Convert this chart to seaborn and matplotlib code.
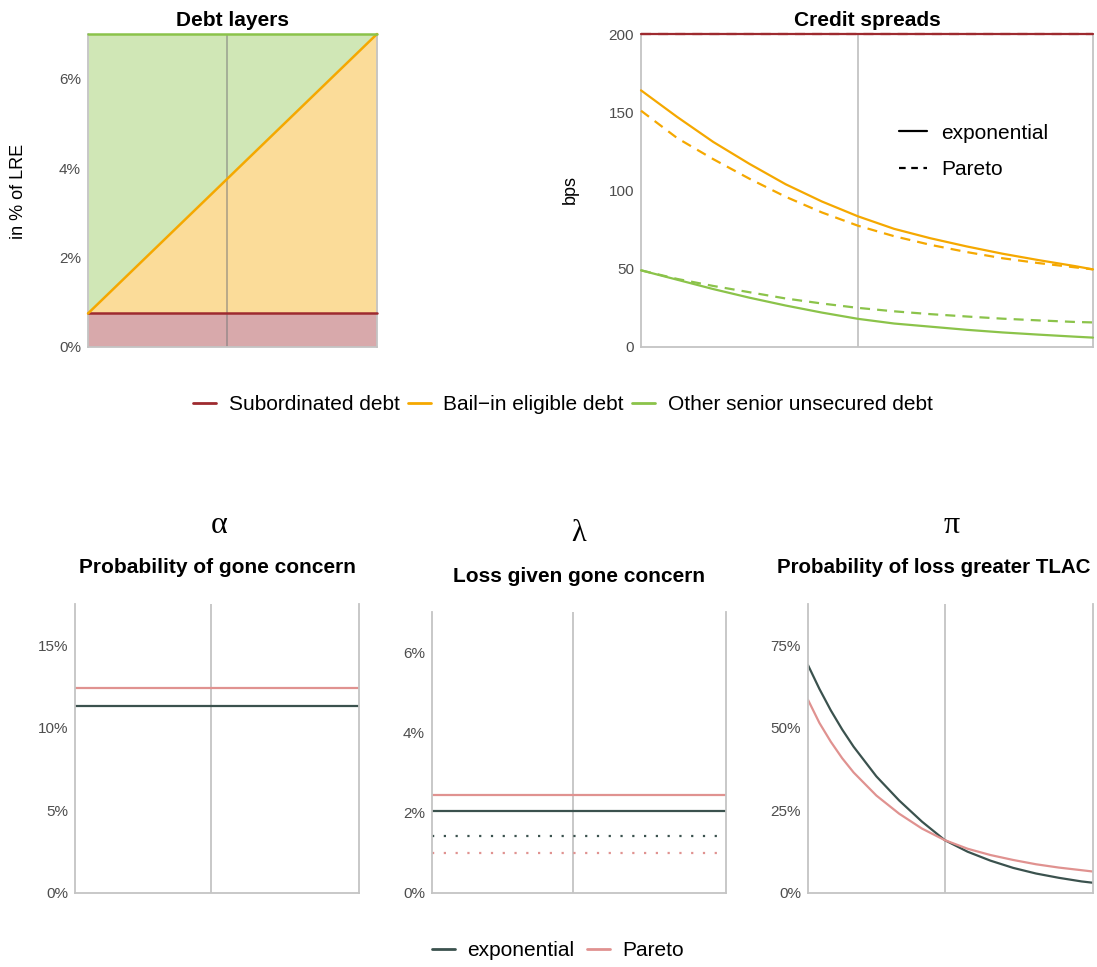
import matplotlib
matplotlib.use("Agg")
import matplotlib.pyplot as plt
import seaborn as sns
import pandas as pd
from matplotlib.lines import Line2D
from matplotlib.ticker import FuncFormatter

# ---------------- data ----------------
# Debt layers (in % of LRE) along the bail-in eligible debt axis
debt_x = [0.0, 6.25]
sub_debt = [0.75, 0.75]
bailin_debt = [0.0, 6.25]
senior_debt = [6.25, 0.0]

x_grid = [0, 0.5, 1, 1.5, 2, 2.5, 3, 3.5, 4, 4.5, 5, 5.5, 6, 6.25]
x_ref = 3

# Credit spreads (bps)
spread_sub_exp = [200, 200, 200, 200, 200, 200, 200, 200, 200, 200, 200, 200, 200, 200]
spread_sub_par = [200, 200, 200, 200, 200, 200, 200, 200, 200, 200, 200, 200, 200, 200]
spread_bail_exp = [164, 147, 131, 117, 104, 93, 83.5, 75.5, 69.5, 64.3, 59.6, 55.5, 51.7, 49.6]
spread_bail_par = [151, 133.5, 120, 107.5, 96, 86, 77.5, 70.8, 65.3, 60.7, 56.7, 53.6, 50.9, 49.6]
spread_sen_exp = [49, 43, 37, 31.5, 26.5, 22, 18, 15, 13, 11, 9.3, 7.9, 6.6, 6]
spread_sen_par = [49, 43.5, 39, 35, 31, 27.8, 25, 22.8, 21, 19.5, 18.1, 17, 16, 15.7]

# alpha: probability of gone concern (%)
alpha_exp = [11.3, 11.3]
alpha_par = [12.4, 12.4]
# lambda: loss given gone concern (%)
lambda_exp = [2.05, 2.05]
lambda_par = [2.45, 2.45]
lambda_exp_dot = [1.43, 1.43]
lambda_par_dot = [1.0, 1.0]
# pi: probability of loss greater TLAC (%)
pi_x = [0, 0.25, 0.5, 0.75, 1, 1.5, 2, 2.5, 3, 3.5, 4, 4.5, 5, 5.5, 6, 6.25]
pi_exp = [69, 61.8, 55.3, 49.5, 44.3, 35.3, 28, 21.6, 16.0, 12.5, 9.8, 7.6, 5.9, 4.6, 3.5, 3.1]
pi_par = [58.5, 51.5, 45.8, 40.8, 36.5, 29.5, 24, 19.5, 16, 13.4, 11.5, 10, 8.7, 7.7, 6.9, 6.5]

layer_names = ["Subordinated debt", "Bail\u2212in eligible debt", "Other senior unsecured debt"]
dist_names = ["exponential", "Pareto"]

# ---------------- style ----------------
sns.set_theme(style="white")
plt.rcParams["font.family"] = ["Liberation Sans", "DejaVu Sans"]
plt.rcParams["text.color"] = "black"
plt.rcParams["legend.labelcolor"] = "black"

C_RED = "#9E2A2F"
C_ORANGE = "#F5A800"
C_GREEN = "#8BC34A"
C_EXP = "#3B524E"
C_PAR = "#E09290"
C_GRID = "#C4C4C4"
C_TICK = "#4D4D4D"

W, H = 1097, 967
fig = plt.figure(figsize=(W / 100, H / 100), dpi=100)


def add_ax(x0, y0, x1, y1):
    return fig.add_axes([x0 / W, 1 - y1 / H, (x1 - x0) / W, (y1 - y0) / H])


def style(ax, ylim, yticks, fmt):
    ax.set_xlim(debt_x[0], debt_x[-1])
    ax.set_ylim(*ylim)
    ax.set_yticks(yticks)
    ax.yaxis.set_major_formatter(FuncFormatter(fmt))
    ax.set_xticks([])
    ax.set_xlabel("")
    ax.set_ylabel("")
    for s in ["left", "right", "bottom"]:
        ax.spines[s].set_visible(True)
        ax.spines[s].set_color(C_GRID)
        ax.spines[s].set_linewidth(1.3)
    ax.spines["top"].set_visible(False)
    ax.tick_params(axis="y", length=0, labelsize=11, labelcolor=C_TICK, pad=5)
    ax.axvline(x_ref, color=C_GRID, lw=1.3, zorder=0.5)
    ax.set_facecolor("white")


pct = lambda v, p: f"{v:g}%"
num = lambda v, p: f"{v:g}"

# ---------------- Debt layers ----------------
ax1 = add_ax(88, 34, 377, 347)
lvl1 = [a for a in sub_debt]
lvl2 = [a + b for a, b in zip(sub_debt, bailin_debt)]
lvl3 = [a + b + c for a, b, c in zip(sub_debt, bailin_debt, senior_debt)]
ax1.fill_between(debt_x, 0, lvl1, color=C_RED, alpha=0.4, lw=0, zorder=1)
ax1.fill_between(debt_x, lvl1, lvl2, color=C_ORANGE, alpha=0.4, lw=0, zorder=1)
ax1.fill_between(debt_x, lvl2, lvl3, color=C_GREEN, alpha=0.4, lw=0, zorder=1)
sns.lineplot(x=debt_x, y=lvl1, ax=ax1, color=C_RED, lw=1.8, zorder=3)
sns.lineplot(x=debt_x, y=lvl2, ax=ax1, color=C_ORANGE, lw=1.8, zorder=3)
sns.lineplot(x=debt_x, y=lvl3, ax=ax1, color=C_GREEN, lw=1.8, zorder=3)
for ln in ax1.lines:
    ln.set_clip_on(False)
style(ax1, (0, 7), [0, 2, 4, 6], pct)
ax1.axvline(x_ref, color="#9a9a9a", lw=1.3, alpha=0.55, zorder=2)

# ---------------- Credit spreads ----------------
ax2 = add_ax(641, 34, 1093, 347)
dash = (0, (4.5, 3.2))
series = [
    (spread_sub_exp, C_RED, "-"), (spread_sub_par, C_RED, dash),
    (spread_bail_exp, C_ORANGE, "-"), (spread_bail_par, C_ORANGE, dash),
    (spread_sen_exp, C_GREEN, "-"), (spread_sen_par, C_GREEN, dash),
]
for vals, col, ls in series:
    sns.lineplot(x=x_grid, y=vals, ax=ax2, color=col, lw=1.6, linestyle=ls, zorder=3)
for ln in ax2.lines:
    ln.set_clip_on(False)
style(ax2, (0, 200), [0, 50, 100, 150, 200], num)
ax2.legend(handles=[Line2D([], [], color="black", lw=1.6, ls="-"),
                    Line2D([], [], color="black", lw=1.6, ls=(0, (3, 2.5)))],
           labels=dist_names, loc="center left", bbox_to_anchor=(0.53, 0.625),
           frameon=False, fontsize=15, handlelength=1.35, handletextpad=0.65,
           labelspacing=0.85)

# ---------------- bottom panels ----------------
ax3 = add_ax(75, 604, 359, 893)
sns.lineplot(x=debt_x, y=alpha_exp, ax=ax3, color=C_EXP, lw=1.6)
sns.lineplot(x=debt_x, y=alpha_par, ax=ax3, color=C_PAR, lw=1.6)
style(ax3, (0, 17.5), [0, 5, 10, 15], pct)

ax4 = add_ax(432, 612, 726, 893)
sns.lineplot(x=debt_x, y=lambda_exp, ax=ax4, color=C_EXP, lw=1.6)
sns.lineplot(x=debt_x, y=lambda_par, ax=ax4, color=C_PAR, lw=1.6)
sns.lineplot(x=debt_x, y=lambda_exp_dot, ax=ax4, color=C_EXP, lw=1.6, linestyle=(0, (1, 4.3)))
sns.lineplot(x=debt_x, y=lambda_par_dot, ax=ax4, color=C_PAR, lw=1.6, linestyle=(0, (1, 4.3)))
style(ax4, (0, 7.0), [0, 2, 4, 6], pct)

ax5 = add_ax(808, 604, 1093, 893)
sns.lineplot(x=pi_x, y=pi_exp, ax=ax5, color=C_EXP, lw=1.6)
sns.lineplot(x=pi_x, y=pi_par, ax=ax5, color=C_PAR, lw=1.6)
style(ax5, (0, 87.5), [0, 25, 50, 75], pct)

# ---------------- texts ----------------
def ftext(x, y, s, **kw):
    fig.text(x / W, 1 - y / H, s, color="black", **kw)

ftext(232, 26, "Debt layers", ha="center", va="baseline", fontsize=15, fontweight="bold")
ftext(867, 26, "Credit spreads", ha="center", va="baseline", fontsize=15, fontweight="bold")
ftext(19, 191, "in % of LRE", ha="center", va="center", rotation=90, fontsize=13)
ftext(570, 190, "bps", ha="center", va="center", rotation=90, fontsize=13)

greek_font = ["Liberation Serif", "DejaVu Serif"]
ftext(219, 533, "\u03b1", ha="center", va="baseline", fontsize=23, family=greek_font)
ftext(579, 541, "\u03bb", ha="center", va="baseline", fontsize=22, family=greek_font)
ftext(952, 533, "\u03c0", ha="center", va="baseline", fontsize=23, family=greek_font)
ftext(217, 573, "Probability of gone concern", ha="center", va="baseline", fontsize=15, fontweight="bold")
ftext(579, 582, "Loss given gone concern", ha="center", va="baseline", fontsize=15, fontweight="bold")
ftext(934, 573, "Probability of loss greater TLAC", ha="center", va="baseline", fontsize=14.8, fontweight="bold")

fig.legend(handles=[Line2D([], [], color=c, lw=2) for c in [C_RED, C_ORANGE, C_GREEN]],
           labels=layer_names, loc="center", bbox_to_anchor=(563 / W, 1 - 405 / H),
           ncol=3, frameon=False, fontsize=15, handlelength=1.1, handletextpad=0.6,
           columnspacing=0.4)
fig.legend(handles=[Line2D([], [], color=c, lw=2) for c in [C_EXP, C_PAR]],
           labels=dist_names, loc="center", bbox_to_anchor=(558 / W, 1 - 951 / H),
           ncol=2, frameon=False, fontsize=15, handlelength=1.1, handletextpad=0.6,
           columnspacing=0.6)

fig.savefig("out.png", dpi=100, facecolor="white")
